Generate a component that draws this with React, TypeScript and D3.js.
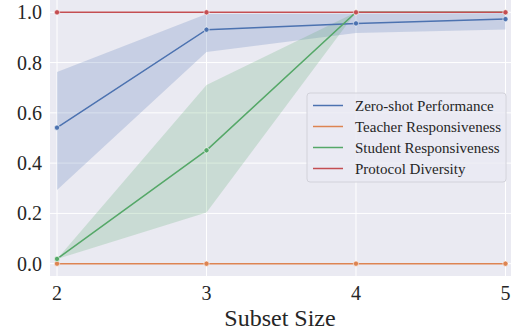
import React, { useEffect, useRef } from "react";
import * as d3 from "d3";

const subsetSizes = [2, 3, 4, 5];
const seriesNames = [
	"Zero-shot Performance",
	"Teacher Responsiveness",
	"Student Responsiveness",
	"Protocol Diversity",
];
const zeroShot = [0.541, 0.931, 0.956, 0.973];
const zeroShotLow = [0.293, 0.842, 0.918, 0.932];
const zeroShotHigh = [0.763, 0.993, 0.994, 0.996];
const teacher = [0, 0, 0, 0];
const student = [0.019, 0.451, 1.0, 1.0];
const studentLow = [0.019, 0.204, 1.0, 1.0];
const studentHigh = [0.019, 0.711, 1.0, 1.0];
const protocol = [1, 1, 1, 1];
const yTicks = [0, 0.2, 0.4, 0.6, 0.8, 1.0];

const colors = ["#4c72b0", "#dd8452", "#55a868", "#c44e52"];
const W = 511;
const H = 332;

const App: React.FC = () => {
	const svgRef = useRef<SVGSVGElement | any>();

	useEffect(() => {
		const svg = d3.select(svgRef.current);
		svg.selectAll("*").remove();

		const left = 50;
		const right = 511;
		const top = 0;
		const bottom = 276;

		const x = d3.scaleLinear().domain([1.953, 5.037]).range([left, right]);
		const y = d3.scaleLinear().domain([-0.049, 1.049]).range([bottom, top]);

		const serif = "'Liberation Serif', 'Times New Roman', serif";

		svg
			.append("rect")
			.attr("x", left)
			.attr("y", top)
			.attr("width", right - left)
			.attr("height", bottom - top)
			.attr("fill", "#eaeaf2");

		// grid
		svg
			.selectAll(".ygrid")
			.data(yTicks)
			.join("line")
			.attr("x1", left)
			.attr("x2", right)
			.attr("y1", (d) => y(d))
			.attr("y2", (d) => y(d))
			.attr("stroke", "#fff")
			.attr("stroke-width", 1);
		svg
			.selectAll(".xgrid")
			.data(subsetSizes)
			.join("line")
			.attr("x1", (d) => x(d))
			.attr("x2", (d) => x(d))
			.attr("y1", top)
			.attr("y2", bottom)
			.attr("stroke", "#fff")
			.attr("stroke-width", 1);

		// tick labels
		svg
			.append("g")
			.selectAll("text")
			.data(yTicks)
			.join("text")
			.attr("x", 42)
			.attr("y", (d) => y(d))
			.attr("dy", "0.35em")
			.attr("text-anchor", "end")
			.attr("font-family", serif)
			.attr("font-size", 20)
			.attr("fill", "#262626")
			.text((d) => d3.format(".1f")(d));
		svg
			.append("g")
			.selectAll("text")
			.data(subsetSizes)
			.join("text")
			.attr("x", (d) => x(d))
			.attr("y", 300)
			.attr("text-anchor", "middle")
			.attr("font-family", serif)
			.attr("font-size", 20)
			.attr("fill", "#262626")
			.text((d) => d);
		svg
			.append("text")
			.attr("x", 280)
			.attr("y", 326)
			.attr("text-anchor", "middle")
			.attr("font-family", serif)
			.attr("font-size", 24)
			.attr("fill", "#262626")
			.text("Subset Size");

		// bands
		const area = d3
			.area<any>()
			.x((d) => x(d.x))
			.y0((d) => y(d.lo))
			.y1((d) => y(d.hi));
		const bands = [
			{ color: colors[0], lo: zeroShotLow, hi: zeroShotHigh },
			{ color: colors[2], lo: studentLow, hi: studentHigh },
		];
		bands.forEach((b) => {
			svg
				.append("path")
				.datum(subsetSizes.map((s, i) => ({ x: s, lo: b.lo[i], hi: b.hi[i] })))
				.attr("d", area)
				.attr("fill", b.color)
				.attr("fill-opacity", 0.22);
		});

		// lines
		const line = d3
			.line<any>()
			.x((d) => x(d.x))
			.y((d) => y(d.v));
		const series = [zeroShot, teacher, student, protocol];
		series.forEach((vals, k) => {
			const pts = subsetSizes.map((s, i) => ({ x: s, v: vals[i] }));
			svg
				.append("path")
				.datum(pts)
				.attr("d", line)
				.attr("fill", "none")
				.attr("stroke", colors[k])
				.attr("stroke-width", 1.5);
			svg
				.append("g")
				.selectAll("circle")
				.data(pts)
				.join("circle")
				.attr("cx", (d) => x(d.x))
				.attr("cy", (d) => y(d.v))
				.attr("r", 2.6)
				.attr("fill", colors[k])
				.attr("stroke", "#fff")
				.attr("stroke-width", 0.6);
		});

		// legend
		const lg = svg.append("g").attr("transform", "translate(307,93)");
		lg.append("rect")
			.attr("width", 199)
			.attr("height", 89)
			.attr("rx", 3)
			.attr("fill", "#eaeaf2")
			.attr("fill-opacity", 0.8)
			.attr("stroke", "#d2d2da")
			.attr("stroke-width", 1);
		seriesNames.forEach((name, i) => {
			const cy = 12.5 + i * 21;
			lg.append("line")
				.attr("x1", 6)
				.attr("x2", 36)
				.attr("y1", cy)
				.attr("y2", cy)
				.attr("stroke", colors[i])
				.attr("stroke-width", 1.5);
			lg.append("text")
				.attr("x", 48)
				.attr("y", cy)
				.attr("dy", "0.35em")
				.attr("font-family", serif)
				.attr("font-size", 15)
				.attr("fill", "#262626")
				.text(name);
		});
	}, []);

	return (
		<svg
			ref={svgRef}
			width={W}
			height={H}
			style={{ position: "absolute", left: 0, top: 0, background: "#fff" }}
		/>
	);
};

export default App;
